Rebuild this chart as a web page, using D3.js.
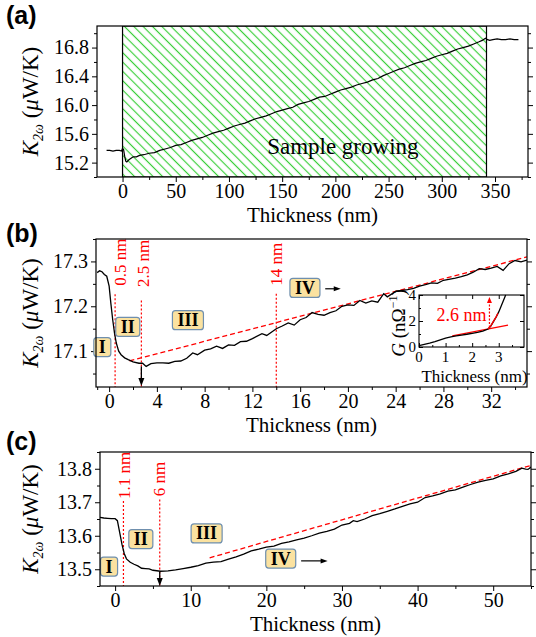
<!DOCTYPE html>
<html><head><meta charset="utf-8">
<script src="https://cdn.jsdelivr.net/npm/d3@7"></script>
<style>body{margin:0;background:#fff}svg{display:block}
.serif{font-family:'Liberation Serif','Times New Roman',Times,serif;}
.sans{font-family:'Liberation Sans',Arial,sans-serif;}
</style>
</head><body>
<svg id="chart" width="536" height="637"></svg>
<script>
// ---------- DATA ----------
// Panel (a): K2w vs thickness during whole growth
const curveA = [[-15,15.37],[-12,15.37],[-9,15.36],[-6,15.37],[-3,15.37],[-1,15.36],[0,15.40],[1,15.38],[2,15.29],[3,15.22],[4,15.21],[6,15.24],[8,15.26],[10,15.28],[13,15.28],[16,15.30],
[20,15.31],[25,15.33],[30,15.34],[35,15.37],[40,15.39],[45,15.41],[50,15.44],[55,15.45],[60,15.48],[65,15.51],
[70,15.53],[75,15.55],[80,15.58],[85,15.61],[90,15.63],[95,15.65],[100,15.68],[105,15.71],[110,15.73],[115,15.75],
[120,15.78],[125,15.81],[130,15.83],[135,15.85],[140,15.88],[145,15.91],[150,15.93],[155,15.95],[160,15.97],[165,16.01],
[170,16.03],[175,16.05],[180,16.08],[185,16.11],[190,16.12],[195,16.15],[200,16.18],[205,16.21],[210,16.23],[215,16.25],
[220,16.28],[225,16.30],[230,16.32],[235,16.35],[240,16.37],[245,16.41],[250,16.44],[255,16.47],[260,16.50],[265,16.52],
[270,16.55],[275,16.58],[280,16.60],[285,16.62],[290,16.65],[295,16.68],[300,16.70],[305,16.72],[310,16.75],[315,16.78],
[320,16.80],[325,16.82],[330,16.85],[335,16.88],[338,16.90],[341,16.93],[343,16.91],[345,16.90],[348,16.91],[352,16.92],
[356,16.91],[360,16.91],[364,16.92],[368,16.91],[372,16.91]];
const growStart = 0, growEnd = 342;
const aXTicks = [0,50,100,150,200,250,300,350];
const aXMinor = [-25,25,75,125,175,225,275,325,375];
const aYTicks = [15.2,15.6,16.0,16.4,16.8];
const aYMinor = [15.0,15.4,15.8,16.2,16.6,17.0];

// Panel (b)
const curveB = [[-1,17.275],[-0.8,17.279],[-0.6,17.277],[-0.4,17.271],[-0.2,17.267],[0,17.245],[0.15,17.205],[0.3,17.17],[0.45,17.14],[0.6,17.118],[0.8,17.1],[1.0,17.092],
[1.3,17.085],[1.6,17.081],[2.0,17.076],[2.5,17.073],[2.8,17.073],[3.1,17.066],[3.5,17.072],[4,17.074],[4.5,17.074],[5,17.073],[5.5,17.077],[6,17.078],
[6.5,17.084],[7,17.096],[7.4,17.092],[8,17.102],[8.5,17.105],[9,17.111],[9.5,17.106],[10,17.114],[10.5,17.113],[11,17.121],[11.5,17.122],[12,17.128],
[12.8,17.139],[13.2,17.135],[14,17.15],[14.5,17.156],[15,17.163],[15.5,17.158],[16,17.17],[16.5,17.175],[17,17.186],[17.5,17.182],[18,17.18],
[18.5,17.186],[19,17.19],[19.5,17.2],[20,17.203],[20.5,17.202],[21,17.213],[21.5,17.207],[22,17.212],[22.5,17.209],[23,17.228],[23.3,17.221],
[24,17.233],[25,17.237],[25.5,17.24],[26,17.245],[26.5,17.248],[27,17.252],[27.5,17.251],[28,17.258],[29,17.263],[29.5,17.266],[30,17.27],
[30.5,17.276],[31,17.284],[31.5,17.282],[32,17.285],[32.5,17.289],[33,17.28],[33.5,17.295],[34,17.302],[34.5,17.299],[35,17.303]];
const fitB = [[1.7,17.078],[35,17.31]];
const bXTicks = [0,4,8,12,16,20,24,28,32];
const bXMinor = [-1,2,6,10,14,18,22,26,30,34];
const bYTicks = [17.1,17.2,17.3];
const bYMinor = [17.05,17.15,17.25,17.35];
const markersB = [{x:0.5, top:17.227, label:"0.5 nm", lx:1.4, ly:17.246},
                  {x:2.7, top:17.213, label:"2.5 nm", lx:3.35, ly:17.243},
                  {x:14, top:17.228, label:"14 nm", lx:14.5, ly:17.246}];
const regionsB = [{t:"I", x:-0.57, y:17.109},{t:"II", x:1.56, y:17.154},{t:"III", x:6.6, y:17.169},{t:"IV", x:16.4, y:17.241}];
const minArrowB = {x:2.7, y1:17.066, y2:17.022};
const nextArrowB = {x1:18.1, x2:19.4, y:17.239};

// Inset of (b): G vs thickness
const curveG = [[0,0.1],[0.2,0.2],[0.4,0.3],[0.6,0.42],[0.8,0.55],[1.0,0.68],[1.2,0.78],[1.4,0.85],[1.6,0.92],[1.8,0.98],[2.0,1.05],
[2.2,1.12],[2.4,1.22],[2.6,1.38],[2.7,1.6],[2.8,1.95],[2.9,2.3],[3.0,2.7],[3.1,3.2],[3.2,3.7],[3.26,4.0]];
const fitGLow = [[1.25,0.85],[3.35,1.68]];
const fitGHigh = [[2.6,1.4],[2.7,1.62],[2.8,1.97],[2.9,2.32],[2.97,2.6]];
const gArrow = {x:2.65, y1:1.5, y2:3.85};
const gXTicks = [0,1,2,3];
const gXMinor = [0.5,1.5,2.5,3.5];
const gYTicks = [0,2,4];
const gYMinor = [1,3];

// Panel (c)
const curveC = [[-2,13.655],[-1.5,13.653],[-1,13.652],[-0.5,13.651],[0,13.651],[0.3,13.645],[0.6,13.61],[0.9,13.575],[1.2,13.547],[1.5,13.531],[2,13.521],
[2.5,13.515],[3,13.51],[3.5,13.503],[4,13.502],[4.5,13.501],[5,13.497],[6,13.494],[7,13.495],[8,13.498],[9,13.502],[10,13.506],[11,13.511],
[12,13.518],[13,13.521],[14,13.523],[15,13.53],[16,13.537],[17,13.545],[18,13.555],[19,13.56],[20,13.566],[21,13.569],[22,13.577],
[23,13.582],[24,13.588],[25,13.593],[26,13.6],[27,13.608],[28,13.613],[29,13.62],[30,13.632],[31,13.637],[31.5,13.645],[32,13.642],
[33,13.65],[34,13.66],[35,13.666],[36,13.673],[37,13.68],[38,13.688],[39,13.695],[40,13.7],[41,13.714],[42,13.719],[43,13.725],[44,13.733],
[45,13.737],[46,13.745],[47,13.753],[48,13.76],[49,13.765],[50,13.77],[51,13.779],[52,13.785],[53,13.792],[53.8,13.802],[54.3,13.799],[54.6,13.798],[55,13.805]];
const fitC = [[12.5,13.534],[55,13.81]];
const cXTicks = [0,10,20,30,40,50];
const cXMinor = [5,15,25,35,45,55];
const cYTicks = [13.5,13.6,13.7,13.8];
const cYMinor = [13.45,13.55,13.65,13.75,13.85];
const markersC = [{x:1.1, top:13.704, label:"1.1 nm", lx:2.0, ly:13.71},
                  {x:5.9, top:13.708, label:"6 nm", lx:6.6, ly:13.718}];
const regionsC = [{t:"I", x:-0.8, y:13.508},{t:"II", x:3.4, y:13.59},{t:"III", x:12.1, y:13.607},{t:"IV", x:21.9, y:13.532}];
const minArrowC = {x:5.9, y1:13.493, y2:13.45};
const nextArrowC = {x1:24.6, x2:28.1, y:13.525};

// ---------- DRAW ----------
const svg = d3.select("#chart");
const defs = svg.append("defs");
const pat = defs.append("pattern").attr("id","hatch").attr("patternUnits","userSpaceOnUse")
  .attr("width",6.6).attr("height",6.6).attr("patternTransform","rotate(-45)");
pat.append("line").attr("x1",3.3).attr("y1",-1).attr("x2",3.3).attr("y2",8).attr("stroke","#3ccf3c").attr("stroke-width",1.2);

const line = (x,y) => d3.line().x(d=>x(d[0])).y(d=>y(d[1]));
const serifText = (sel, fs) => sel.append("text").attr("class","serif").style("font-size",fs+"px").attr("fill","#000");

function yTitle(g, cx, cy) {
  const t = serifText(g, 23).attr("transform",`translate(${cx},${cy}) rotate(-90)`).attr("text-anchor","middle");
  t.append("tspan").attr("font-style","italic").text("K");
  t.append("tspan").style("font-size","14px").attr("dy",5).attr("font-style","italic").text("2ω");
  t.append("tspan").attr("dy",-5).text(" (");
  t.append("tspan").attr("font-style","italic").text("μ");
  t.append("tspan").text("W/K)");
}

function styleAxis(sel, fs) {
  sel.attr("font-family",null).attr("font-size",null);
  sel.select(".domain").remove();
  sel.selectAll("text").attr("class","serif").style("font-size",fs+"px").attr("fill","#000");
  sel.selectAll("line").attr("stroke","#000").attr("stroke-width",1);
}

function makePanel(p) {
  const x = d3.scaleLinear().domain(p.xDomain).range([p.left,p.right]);
  const y = d3.scaleLinear().domain(p.yDomain).range([p.bottom,p.top]);
  const g = svg.append("g");
  const clipId = "clip-"+p.id;
  defs.append("clipPath").attr("id",clipId).append("rect")
    .attr("x",p.left).attr("y",p.top).attr("width",p.right-p.left).attr("height",p.bottom-p.top);
  const inner = g.append("g").attr("clip-path",`url(#${clipId})`);
  const inX = v => v>=p.xDomain[0]&&v<=p.xDomain[1];
  const inY = v => v>=p.yDomain[0]&&v<=p.yDomain[1];

  styleAxis(g.append("g").attr("transform",`translate(0,${p.bottom})`)
    .call(d3.axisBottom(x).tickValues(p.xTicks).tickSize(5).tickPadding(2).tickFormat(d3.format("d"))), 20);
  styleAxis(g.append("g").attr("transform",`translate(0,${p.bottom})`)
    .call(d3.axisBottom(x).tickValues(p.xMinor.filter(inX)).tickSize(3).tickFormat("")), 20);
  styleAxis(g.append("g").attr("transform",`translate(${p.left},0)`)
    .call(d3.axisLeft(y).tickValues(p.yTicks).tickSize(5).tickPadding(3).tickFormat(d3.format(".1f"))), 20);
  styleAxis(g.append("g").attr("transform",`translate(${p.left},0)`)
    .call(d3.axisLeft(y).tickValues(p.yMinor.filter(inY)).tickSize(3).tickFormat("")), 20);
  styleAxis(g.append("g").attr("transform",`translate(${p.right},0)`)
    .call(d3.axisRight(y).tickValues(p.yTicks).tickSize(5).tickFormat("")), 20);
  styleAxis(g.append("g").attr("transform",`translate(${p.right},0)`)
    .call(d3.axisRight(y).tickValues(p.yMinor.filter(inY)).tickSize(3).tickFormat("")), 20);

  serifText(g, 21).attr("x",(p.left+p.right)/2).attr("y",p.bottom+p.titleDy)
    .attr("text-anchor","middle").text("Thickness (nm)");
  yTitle(g, 38, (p.top+p.bottom)/2);
  g.append("text").attr("class","sans").attr("x",6).attr("y",p.labelY).attr("font-weight","bold")
    .style("font-size","25px").attr("fill","#000").text(`(${p.id})`);

  return {x,y,g,inner,frame:()=>g.append("rect").attr("x",p.left).attr("y",p.top)
    .attr("width",p.right-p.left).attr("height",p.bottom-p.top).attr("fill","none").attr("stroke","#000").attr("stroke-width",1.2)};
}

function vMarkers(P, markers, yBottom) {
  markers.forEach(m => {
    P.inner.append("line").attr("x1",P.x(m.x)).attr("x2",P.x(m.x)).attr("y1",P.y(m.top)).attr("y2",P.y(yBottom))
      .attr("stroke","#ff0000").attr("stroke-width",1.2).attr("stroke-dasharray","2,2");
    serifText(P.g, 17).attr("transform",`translate(${P.x(m.lx)},${P.y(m.ly)}) rotate(-90)`)
      .attr("fill","#ff0000").text(m.label);
  });
}
function boxes(P, regions) {
  regions.forEach(r => {
    const t = serifText(P.g, 18).attr("x",P.x(r.x)).attr("y",P.y(r.y)+6).attr("text-anchor","middle")
      .attr("font-weight","bold").text(r.t);
    const w = t.node().getComputedTextLength()+10;
    P.g.insert("rect", function(){return t.node();}).attr("x",P.x(r.x)-w/2).attr("y",P.y(r.y)-9.5).attr("width",w).attr("height",19)
      .attr("rx",3).attr("fill","#fbe2a0").attr("stroke","#6f8fae").attr("stroke-width",1.2);
  });
}
function arrowDown(P, a) {
  const x = P.x(a.x), y1 = P.y(a.y1), y2 = P.y(a.y2);
  P.g.append("line").attr("x1",x).attr("x2",x).attr("y1",y1).attr("y2",y2-5).attr("stroke","#000").attr("stroke-width",1.3);
  P.g.append("path").attr("d",`M${x-3},${y2-8}L${x+3},${y2-8}L${x},${y2}Z`).attr("fill","#000");
}
function arrowRight(P, a) {
  const x1 = P.x(a.x1), x2 = P.x(a.x2), y = P.y(a.y);
  P.g.append("line").attr("x1",x1).attr("x2",x2-5).attr("y1",y).attr("y2",y).attr("stroke","#000").attr("stroke-width",1.2);
  P.g.append("path").attr("d",`M${x2-7},${y-2.5}L${x2-7},${y+2.5}L${x2},${y}Z`).attr("fill","#000");
}

// ----- Panel (a)
const A = makePanel({id:"a",left:97,right:528,top:26,bottom:177,xDomain:[-24,381],yDomain:[15.0,17.1],
  xTicks:aXTicks,xMinor:aXMinor,yTicks:aYTicks,yMinor:aYMinor,titleDy:45,labelY:24});
A.inner.append("rect").attr("x",A.x(growStart)).attr("y",26).attr("width",A.x(growEnd)-A.x(growStart)).attr("height",151)
  .attr("fill","url(#hatch)").attr("stroke","#000").attr("stroke-width",1.2);
A.inner.append("path").datum(curveA).attr("d",line(A.x,A.y)).attr("fill","none").attr("stroke","#000").attr("stroke-width",1.2);
serifText(A.g, 23).attr("x",A.x(207)).attr("y",A.y(15.32)).attr("text-anchor","middle").text("Sample growing");
A.frame();

// ----- Panel (b)
const B = makePanel({id:"b",left:96,right:527,top:239,bottom:387,xDomain:[-1.1,35],yDomain:[17.02,17.35],
  xTicks:bXTicks,xMinor:bXMinor,yTicks:bYTicks,yMinor:bYMinor,titleDy:45,labelY:242});
vMarkers(B, markersB, 17.02);
B.inner.append("path").datum(fitB).attr("d",line(B.x,B.y)).attr("fill","none").attr("stroke","#ff0000").attr("stroke-width",1.3).attr("stroke-dasharray","5,3");
B.inner.append("path").datum(curveB).attr("d",line(B.x,B.y)).attr("fill","none").attr("stroke","#000").attr("stroke-width",1.3);
boxes(B, regionsB);
arrowDown(B, minArrowB);
arrowRight(B, nextArrowB);
B.frame();

// inset
(function(){
  const L=419,R=524,T=295,Bo=347;
  const x = d3.scaleLinear().domain([0,3.95]).range([L,R]);
  const y = d3.scaleLinear().domain([0,4]).range([Bo,T]);
  const g = svg.append("g");
  g.append("rect").attr("x",L).attr("y",T).attr("width",R-L).attr("height",Bo-T).attr("fill","#fff");
  styleAxis(g.append("g").attr("transform",`translate(0,${Bo})`).call(d3.axisTop(x).tickValues(gXTicks).tickSize(4).tickFormat("")),14);
  styleAxis(g.append("g").attr("transform",`translate(0,${Bo})`).call(d3.axisTop(x).tickValues(gXMinor).tickSize(2).tickFormat("")),14);
  styleAxis(g.append("g").attr("transform",`translate(${L},0)`).call(d3.axisRight(y).tickValues(gYTicks).tickSize(4).tickFormat("")),14);
  styleAxis(g.append("g").attr("transform",`translate(${L},0)`).call(d3.axisRight(y).tickValues(gYMinor).tickSize(2).tickFormat("")),14);
  styleAxis(g.append("g").attr("transform",`translate(0,${T})`).call(d3.axisBottom(x).tickValues(gXTicks).tickSize(4).tickFormat("")),14);
  styleAxis(g.append("g").attr("transform",`translate(${R},0)`).call(d3.axisLeft(y).tickValues(gYTicks).tickSize(4).tickFormat("")),14);
  gXTicks.forEach(d => serifText(g, 15).attr("x",x(d)).attr("y",Bo+15).attr("text-anchor","middle").text(d));
  gYTicks.forEach(d => serifText(g, 15).attr("x",L-3).attr("y",y(d)+5).attr("text-anchor","end").text(d));
  g.append("path").datum(fitGLow).attr("d",line(x,y)).attr("fill","none").attr("stroke","#ff0000").attr("stroke-width",1.2);
  g.append("path").datum(curveG).attr("d",line(x,y)).attr("fill","none").attr("stroke","#000").attr("stroke-width",1.3);
  g.append("path").datum(fitGHigh).attr("d",line(x,y)).attr("fill","none").attr("stroke","#ff0000").attr("stroke-width",1.3);
  const ax2 = x(gArrow.x);
  g.append("line").attr("x1",ax2).attr("x2",ax2).attr("y1",y(gArrow.y1)).attr("y2",y(gArrow.y2)+4)
    .attr("stroke","#ff0000").attr("stroke-width",1.2).attr("stroke-dasharray","2,1.5");
  g.append("path").attr("d",`M${ax2-2.5},${y(gArrow.y2)+6}L${ax2+2.5},${y(gArrow.y2)+6}L${ax2},${y(gArrow.y2)}Z`).attr("fill","#ff0000");
  serifText(g, 18).attr("x",x(1.6)).attr("y",y(2.44)+6).attr("text-anchor","middle").attr("fill","#ff0000").text("2.6 nm");
  g.append("rect").attr("x",L).attr("y",T).attr("width",R-L).attr("height",Bo-T).attr("fill","none").attr("stroke","#000").attr("stroke-width",1.1);
  serifText(g, 17).attr("x",(L+R)/2+3).attr("y",Bo+35).attr("text-anchor","middle").text("Thickness (nm)");
  const gt = serifText(g, 19).attr("transform",`translate(${L-14},${(T+Bo)/2+2}) rotate(-90)`).attr("text-anchor","middle");
  gt.append("tspan").attr("font-style","italic").text("G");
  gt.append("tspan").text(" (nΩ");
  gt.append("tspan").style("font-size","12px").attr("dy",-8).text("−1");
  gt.append("tspan").attr("dy",8).text(")");
})();

// ----- Panel (c)
const C = makePanel({id:"c",left:100,right:531,top:452,bottom:586,xDomain:[-2,55],yDomain:[13.45,13.85],
  xTicks:cXTicks,xMinor:cXMinor,yTicks:cYTicks,yMinor:cYMinor,titleDy:45,labelY:450});
vMarkers(C, markersC, 13.45);
C.inner.append("path").datum(fitC).attr("d",line(C.x,C.y)).attr("fill","none").attr("stroke","#ff0000").attr("stroke-width",1.3).attr("stroke-dasharray","5,3");
C.inner.append("path").datum(curveC).attr("d",line(C.x,C.y)).attr("fill","none").attr("stroke","#000").attr("stroke-width",1.3);
boxes(C, regionsC);
arrowDown(C, minArrowC);
arrowRight(C, nextArrowC);
C.frame();
</script>
</body></html>
